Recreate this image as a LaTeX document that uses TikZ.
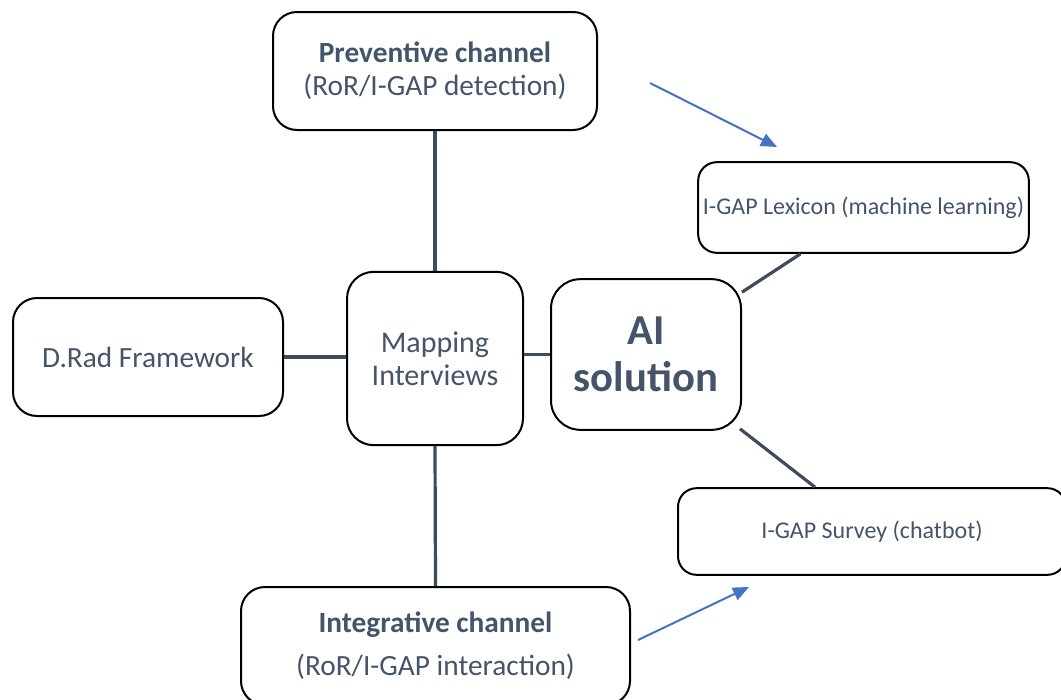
\documentclass[tikz,border=0pt]{standalone}
\usepackage{fontspec}
\setmainfont{Carlito}
\usetikzlibrary{arrows.meta,calc}
\definecolor{slate}{HTML}{44546A}
\definecolor{linkc}{HTML}{3E4B5E}
\definecolor{flowblue}{HTML}{4472C4}
\tikzset{
  box/.style={draw=black, line width=1.5pt, rounded corners=18pt, inner sep=0pt,
    align=center, text=slate},
  link/.style={draw=linkc, line width=2.4pt},
  flow/.style={draw=flowblue, line width=1.5pt, -{Triangle[length=12pt,width=10pt]}},
  txt/.style={font=\fontsize{22}{25}\selectfont},
  small/.style={font=\fontsize{18}{21}\selectfont}
}
\begin{document}
\begin{tikzpicture}[x=0.75pt,y=-0.75pt]
\useasboundingbox (0,0) rectangle (1061,700);
\clip (0,0) rectangle (1061,700);
\fill[white] (0,0) rectangle (1061,700);

% main blocks
\node[box, txt, minimum width=243pt, minimum height=88.5pt] (prev) at (435,71)
  {\textbf{Preventive channel}\\(RoR/I-GAP detection)};
\node[box, font=\fontsize{22.5}{25}\selectfont, minimum width=132pt, minimum height=130pt, rounded corners=20pt] (map) at (435,358.5)
  {Mapping\\Interviews};
\node[box, txt, minimum width=202.5pt, minimum height=88.5pt] (drad) at (148,357)
  {D.Rad Framework};
\node[box, minimum width=142.5pt, minimum height=113pt, rounded corners=22pt,
  font=\fontsize{32}{35}\selectfont\bfseries] (ai) at (646,354.5)
  {AI\\solution};
\node[box, small, minimum width=248pt, minimum height=68pt, rounded corners=14pt] (lex) at (863.5,207.5)
  {I-GAP Lexicon (machine learning)};
\node[box, small, minimum width=291pt, minimum height=65pt, rounded corners=14pt] (surv) at (872,531.5)
  {I-GAP Survey (chatbot)};
\node[box, font=\fontsize{22}{32}\selectfont, minimum width=291.75pt, minimum height=88.5pt] (integ) at (435.5,646)
  {\textbf{Integrative channel}\\(RoR/I-GAP interaction)};

% connectors between blocks
\draw[link] (prev.south) -- (map.north);
\draw[link] (map.south) -- (integ.north);
\draw[link] (drad.east) -- (drad.east -| map.west);
\draw[link] (map.east |- ai.west) -- (ai.west);
\coordinate (aiNE) at ($(ai.north east)+(0,14)$);
\coordinate (lexB) at ($(lex.south)+(-63,0)$);
\draw[link] (aiNE) -- (lexB);
\coordinate (aiSE) at ($(ai.south east)+(-2,-2)$);
\coordinate (survT) at ($(surv.north)+(-57,0)$);
\draw[link] (aiSE) -- (survT);

% flow arrows
\coordinate (f1a) at (650,83);
\coordinate (f1b) at (777,147);
\coordinate (f2a) at (638,640);
\coordinate (f2b) at (749,587);
\draw[flow] (f1a) -- (f1b);
\draw[flow] (f2a) -- (f2b);
\end{tikzpicture}
\end{document}
